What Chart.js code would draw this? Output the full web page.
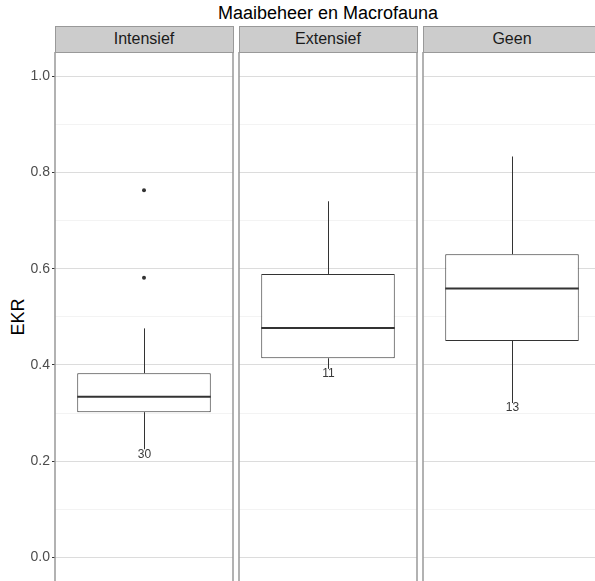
<!DOCTYPE html>
<html>
<head>
<meta charset="utf-8">
<script src="https://cdn.jsdelivr.net/npm/chart.js@4.4.1/dist/chart.umd.min.js"></script>
<style>
  body { margin: 0; width: 595px; height: 581px; overflow: hidden; background: #fff; position: relative;
         font-family: "Liberation Sans", Arial, sans-serif; }
  .title { position: absolute; left: 55px; width: 546px; top: 3px; text-align: center; font-size: 18px; color: #000; }
  .strip { position: absolute; top: 26px; height: 27px; width: 179px; box-sizing: border-box; background: #ccc;
           border: 1.5px solid #999; text-align: center; line-height: 24px; font-size: 16px; color: #1a1a1a; }
  .panel { position: absolute; top: 52px; height: 548px; }
  .ytitle { position: absolute; left: 18px; top: 317px; transform: translate(-50%, -50%) rotate(-90deg);
            font-size: 18px; color: #000; white-space: nowrap; }
</style>
</head>
<body>
<div class="title">Maaibeheer en Macrofauna</div>
<div class="ytitle">EKR</div>
<div class="strip" style="left:54.5px">Intensief</div>
<div class="strip" style="left:238.5px">Extensief</div>
<div class="strip" style="left:422.5px">Geen</div>
<div class="panel" style="left:0;width:234px"><canvas id="p0"></canvas></div>
<div class="panel" style="left:238px;width:180px"><canvas id="p1"></canvas></div>
<div class="panel" style="left:422px;width:180px"><canvas id="p2"></canvas></div>
<script>
// data
const categories = ['Intensief', 'Extensief', 'Geen'];
const counts = [30, 11, 13];
const whiskerLow = [0.225, 0.392, 0.321];
const q1 = [0.302, 0.414, 0.450];
const median = [0.334, 0.477, 0.559];
const q3 = [0.383, 0.589, 0.630];
const whiskerHigh = [0.476, 0.740, 0.833];
const outliers = [[0.763, 0.581], [], []];
const majorTicks = [0, 0.2, 0.4, 0.6, 0.8, 1.0];
const minorTicks = [0.1, 0.3, 0.5, 0.7, 0.9];
const yMin = -0.0881;
const yMax = 1.05;

const ink = '#333333';

// whiskers, median, count label and panel border
const boxPlugin = {
  id: 'boxes',
  afterDatasetsDraw(chart, args, opts) {
    const i = opts.index;
    const y = chart.scales.y;
    const bar = chart.getDatasetMeta(0).data[0];
    const ctx = chart.ctx;
    const x = Math.round(bar.x) + 0.5;
    const half = bar.width / 2;
    ctx.save();
    ctx.strokeStyle = ink;
    ctx.lineWidth = 1;
    ctx.beginPath();
    ctx.moveTo(x, y.getPixelForValue(q3[i]));
    ctx.lineTo(x, y.getPixelForValue(whiskerHigh[i]));
    ctx.moveTo(x, y.getPixelForValue(q1[i]));
    ctx.lineTo(x, y.getPixelForValue(whiskerLow[i]));
    ctx.stroke();
    ctx.lineWidth = 2;
    ctx.beginPath();
    const ym = y.getPixelForValue(median[i]);
    ctx.moveTo(bar.x - half, ym);
    ctx.lineTo(bar.x + half, ym);
    ctx.stroke();
    ctx.fillStyle = '#3a3a3a';
    ctx.font = '12px "Liberation Sans", Arial, sans-serif';
    ctx.textAlign = 'center';
    ctx.textBaseline = 'middle';
    ctx.fillText(String(counts[i]), x, y.getPixelForValue(whiskerLow[i]) + 5);
    ctx.restore();
  },
  afterDraw(chart) {
    const a = chart.chartArea;
    const ctx = chart.ctx;
    ctx.save();
    ctx.strokeStyle = '#999';
    ctx.lineWidth = 1.5;
    ctx.strokeRect(a.left, a.top, a.right - a.left, a.bottom - a.top + 20);
    ctx.restore();
  }
};

function makePanel(i) {
  const first = i === 0;
  return new Chart(document.getElementById('p' + i), {
    type: 'bar',
    data: {
      labels: [categories[i]],
      datasets: [{
        data: [[q1[i], q3[i]]],
        backgroundColor: '#ffffff',
        borderColor: ink,
        borderWidth: 1,
        borderSkipped: false,
        barPercentage: 0.75,
        categoryPercentage: 1
      }, {
        type: 'scatter',
        data: outliers[i].map(v => ({ x: categories[i], y: v })),
        backgroundColor: ink,
        borderWidth: 0,
        pointRadius: 2
      }]
    },
    options: {
      responsive: true,
      maintainAspectRatio: false,
      animation: false,
      layout: { autoPadding: false, padding: { left: first ? 0 : 1, right: 1, top: 0, bottom: 0 } },
      plugins: {
        legend: { display: false },
        tooltip: { enabled: false },
        boxes: { index: i }
      },
      scales: {
        x: { display: false, offset: true },
        y: {
          min: yMin,
          max: yMax,
          border: { display: false },
          afterBuildTicks: s => {
            s.ticks = majorTicks.concat(minorTicks).sort((a, b) => a - b).map(v => ({ value: v }));
          },
          afterFit: s => {
            s.width = first ? 55 : 0;
            s.paddingTop = 0;
            s.paddingBottom = 0;
          },
          grid: {
            color: c => (c.tick && majorTicks.includes(c.tick.value)) ? '#dcdcdc' : '#f3f3f3',
            lineWidth: 1,
            drawTicks: first,
            tickLength: 3,
            tickColor: c => (c.tick && majorTicks.includes(c.tick.value)) ? ink : 'rgba(0,0,0,0)'
          },
          ticks: {
            display: first,
            autoSkip: false,
            padding: 2,
            color: '#4d4d4d',
            font: { family: '"Liberation Sans", Arial, sans-serif', size: 14 },
            callback: v => majorTicks.includes(v) ? v.toFixed(1) : ''
          }
        }
      }
    },
    plugins: [boxPlugin]
  });
}

categories.forEach((c, i) => makePanel(i));
</script>
</body>
</html>
